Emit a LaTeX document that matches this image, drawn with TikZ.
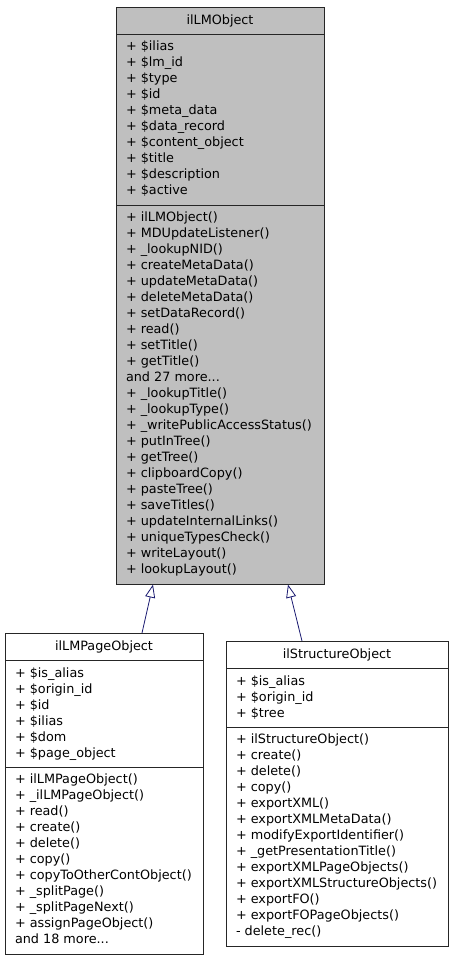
\documentclass[tikz,border=0pt]{standalone}
\usepackage{fontspec}
\setmainfont{DejaVu Sans}
\usetikzlibrary{shapes.multipart,arrows.meta,calc}
\definecolor{boxgray}{RGB}{191,191,191}
\definecolor{edgeblue}{RGB}{25,25,112}
\newcommand{\umllines}[1]{\begin{tabular}{@{}l@{}}#1\end{tabular}}

\begin{document}
\begin{tikzpicture}[x=1pt,y=-1pt,
  umlclass/.style={draw=black!85,line width=0.9pt,rectangle split,rectangle split parts=3,
    rectangle split part align={center,left,left},inner xsep=10pt,inner ysep=5pt,
    font=\fontsize{12.8}{16}\selectfont,anchor=north},
  inherit/.style={draw=edgeblue,line width=0.8pt,-{Triangle[open,length=13pt,width=10pt,fill=white]}}]
\useasboundingbox (0,0) rectangle (453,960);

%base class
\node[umlclass,fill=boxgray,minimum width=208pt] (lmobj) at (220,7)
  {\umllines{ilLMObject}
  \nodepart{two}\umllines{+ \$ilias\\+ \$lm\_id\\+ \$type\\+ \$id\\+ \$meta\_data\\+ \$data\_record\\+ \$content\_object\\+ \$title\\+ \$description\\+ \$active}
  \nodepart{three}\umllines{+ ilLMObject()\\+ MDUpdateListener()\\+ \_lookupNID()\\+ createMetaData()\\+ updateMetaData()\\+ deleteMetaData()\\+ setDataRecord()\\+ read()\\+ setTitle()\\+ getTitle()\\and 27 more...\\+ \_lookupTitle()\\+ \_lookupType()\\+ \_writePublicAccessStatus()\\+ putInTree()\\+ getTree()\\+ clipboardCopy()\\+ pasteTree()\\+ saveTitles()\\+ updateInternalLinks()\\+ uniqueTypesCheck()\\+ writeLayout()\\+ lookupLayout()}};

%page object
\node[umlclass,fill=white,minimum width=198pt] (pageobj) at (104,633)
  {\umllines{ilLMPageObject}
  \nodepart{two}\umllines{+ \$is\_alias\\+ \$origin\_id\\+ \$id\\+ \$ilias\\+ \$dom\\+ \$page\_object}
  \nodepart{three}\umllines{+ ilLMPageObject()\\+ \_ilLMPageObject()\\+ read()\\+ create()\\+ delete()\\+ copy()\\+ copyToOtherContObject()\\+ \_splitPage()\\+ \_splitPageNext()\\+ assignPageObject()\\and 18 more...}};

%structure object
\node[umlclass,fill=white,minimum width=222pt] (structobj) at (337,641)
  {\umllines{ilStructureObject}
  \nodepart{two}\umllines{+ \$is\_alias\\+ \$origin\_id\\+ \$tree}
  \nodepart{three}\umllines{+ ilStructureObject()\\+ create()\\+ delete()\\+ copy()\\+ exportXML()\\+ exportXMLMetaData()\\+ modifyExportIdentifier()\\+ \_getPresentationTitle()\\+ exportXMLPageObjects()\\+ exportXMLStructureObjects()\\+ exportFO()\\+ exportFOPageObjects()\\- delete\_rec()}};

%inheritance
\draw[inherit] ([xshift=38pt]pageobj.north) -- ([xshift=-67pt]lmobj.south);
\draw[inherit] ([xshift=-35pt]structobj.north) -- ([xshift=68pt]lmobj.south);
\end{tikzpicture}
\end{document}
